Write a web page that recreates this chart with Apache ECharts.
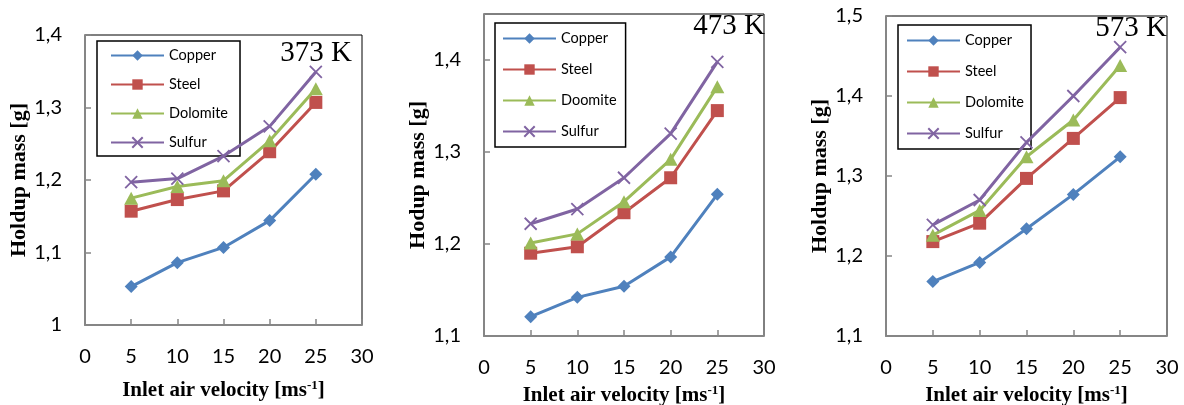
<!DOCTYPE html>
<html>
<head>
<meta charset="utf-8">
<script src="https://cdn.jsdelivr.net/npm/echarts@6/dist/echarts.min.js"></script>
<style>
  html, body { margin: 0; padding: 0; background: #fff; }
  #chart { width: 1184px; height: 405px; }
</style>
</head>
<body>
<div id="chart"></div>
<script>
// Inlet air velocity (m/s) shared by all three panels
const velocity = [5, 10, 15, 20, 25];
const xTicks = { min: 0, max: 30, interval: 5 };

// Holdup mass [g] at 373 K
const copper373   = [1.053, 1.086, 1.107, 1.144, 1.208];
const steel373    = [1.157, 1.173, 1.185, 1.239, 1.307];
const dolomite373 = [1.175, 1.191, 1.199, 1.254, 1.326];
const sulfur373   = [1.197, 1.202, 1.233, 1.274, 1.349];

// Holdup mass [g] at 473 K
const copper473   = [1.121, 1.142, 1.154, 1.186, 1.254];
const steel473    = [1.190, 1.197, 1.234, 1.272, 1.345];
const doomite473  = [1.201, 1.211, 1.246, 1.292, 1.371];
const sulfur473   = [1.222, 1.238, 1.272, 1.320, 1.398];

// Holdup mass [g] at 573 K
const copper573   = [1.168, 1.192, 1.234, 1.277, 1.324];
const steel573    = [1.218, 1.241, 1.297, 1.347, 1.398];
const dolomite573 = [1.226, 1.257, 1.324, 1.370, 1.438];
const sulfur573   = [1.239, 1.270, 1.342, 1.400, 1.461];

// Panel titles, legend names and y ranges
const panelTemps = ['373 K', '473 K', '573 K'];
const legendNames = [
  ['Copper', 'Steel', 'Dolomite', 'Sulfur'],
  ['Copper', 'Steel', 'Doomite', 'Sulfur'],
  ['Copper', 'Steel', 'Dolomite', 'Sulfur']
];
const yTitles = ['Holdup mass [g]', 'Hodup mass [g]', 'Holdup mass [g]'];
const yRanges = [
  { min: 1.0, max: 1.4, interval: 0.1 },
  { min: 1.1, max: 1.45, interval: 0.1 },
  { min: 1.1, max: 1.5, interval: 0.1 }
];
const panelData = [
  [copper373, steel373, dolomite373, sulfur373],
  [copper473, steel473, doomite473, sulfur473],
  [copper573, steel573, dolomite573, sulfur573]
];

// Styling
const colors = ['#4F81BD', '#C0504D', '#9BBB59', '#8064A2'];
const symbols = ['diamond', 'rect', 'triangle', 'path://M0,0L10,10M10,0L0,10'];
const symbolSizes = [[13, 13], [13, 13], [14, 13], [12, 12]];
const grids = [
  { left: 85,  top: 35, width: 277, height: 290 },
  { left: 484, top: 14, width: 280, height: 322 },
  { left: 886, top: 16, width: 281, height: 320 }
];
const legends = [
  { left: 97,  top: 41, itemGap: 14, padding: [7, 12, 6, 13] },
  { left: 495, top: 23, itemGap: 16, padding: [8, 9, 8, 7] },
  { left: 898, top: 25, itemGap: 16, padding: [8, 7, 8, 8] }
];
const tempPos = [[352, 53], [765, 26], [1167, 28.5]];
const xNameGaps = [54, 48, 48];

const tickFont = 'Lato, "Open Sans", sans-serif';
const serif = '"Liberation Serif", "Times New Roman", serif';
const fmtComma = v => String(Math.round(v * 100) / 100).replace('.', ',');

const option = {
  animation: false,
  backgroundColor: '#fff',
  grid: grids.map(g => Object.assign({
    show: true, borderColor: '#000', borderWidth: 1, backgroundColor: 'transparent',
    containLabel: false, outerBoundsMode: 'none'
  }, g)),
  xAxis: grids.map((g, i) => ({
    gridIndex: i,
    type: 'value',
    min: xTicks.min, max: xTicks.max, interval: xTicks.interval,
    axisLine: { show: true, lineStyle: { color: '#868686', width: 2 } },
    axisTick: { show: true, inside: true, length: 6, lineStyle: { color: '#868686', width: 1.5 } },
    splitLine: { show: false },
    axisLabel: { color: '#000', fontFamily: tickFont, fontSize: 20, margin: 22 },
    name: 'Inlet air velocity [ms{sup|-1}]',
    nameLocation: 'middle',
    nameGap: xNameGaps[i],
    nameTextStyle: {
      color: '#000', fontFamily: serif, fontWeight: 'bold', fontSize: 21, lineHeight: 24,
      rich: {
        sup: { fontFamily: serif, fontWeight: 'bold', fontSize: 13, lineHeight: 14, verticalAlign: 'top', color: '#000' }
      }
    }
  })),
  yAxis: grids.map((g, i) => ({
    gridIndex: i,
    type: 'value',
    min: yRanges[i].min, max: yRanges[i].max, interval: yRanges[i].interval,
    axisLine: { show: true, lineStyle: { color: '#868686', width: 2 } },
    axisTick: { show: true, inside: true, length: 6, lineStyle: { color: '#868686', width: 1.5 } },
    splitLine: { show: false },
    axisLabel: { color: '#000', fontFamily: tickFont, fontSize: 20, margin: 23, formatter: fmtComma, showMaxLabel: i !== 1 },
    name: yTitles[i],
    nameLocation: 'middle',
    nameRotate: 90,
    nameGap: 53,
    nameTextStyle: { color: '#000', fontFamily: serif, fontWeight: 'bold', fontSize: 22 }
  })),
  legend: legends.map((l, i) => ({
    orient: 'vertical',
    left: l.left, top: l.top,
    padding: l.padding,
    itemGap: l.itemGap,
    itemWidth: 53, itemHeight: 13,
    borderColor: '#000', borderWidth: 1.5,
    data: legendNames[i],
    selectedMode: false,
    textStyle: { color: '#000', fontFamily: tickFont, fontSize: 14.5 }
  })),
  graphic: panelTemps.map((t, i) => ({
    type: 'text',
    x: tempPos[i][0], y: tempPos[i][1],
    z: 10,
    style: { text: t, fill: '#000', font: '29px ' + serif, textAlign: 'right', textVerticalAlign: 'middle' }
  })),
  series: []
};

panelData.forEach((sets, p) => {
  sets.forEach((vals, s) => {
    option.series.push({
      type: 'line',
      name: legendNames[p][s],
      xAxisIndex: p, yAxisIndex: p,
      data: velocity.map((v, k) => [v, vals[k]]),
      symbol: symbols[s],
      symbolSize: symbolSizes[s],
      showAllSymbol: true,
      lineStyle: { color: colors[s], width: 3 },
      itemStyle: s === 3
        ? { color: colors[s], borderColor: colors[s], borderWidth: 1.8 }
        : { color: colors[s], borderWidth: 0 },
      emphasis: { disabled: true },
      z: 2 + s
    });
  });
});

const chart = echarts.init(document.getElementById('chart'), null, { renderer: 'canvas' });
chart.setOption(option);
</script>
</body>
</html>
